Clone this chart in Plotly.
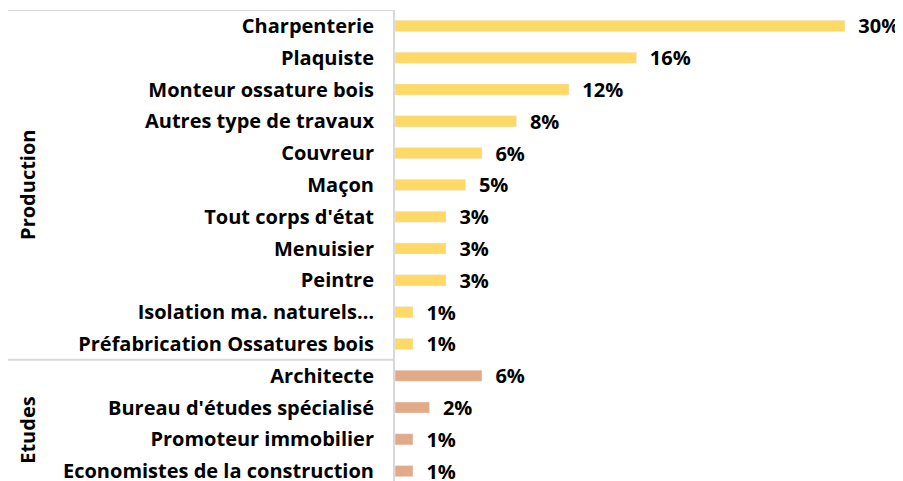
import plotly.graph_objects as go

# Production
prod_metiers = ["Charpenterie", "Plaquiste", "Monteur ossature bois", "Autres type de travaux",
                "Couvreur", "Maçon", "Tout corps d'état", "Menuisier", "Peintre",
                "Isolation ma. naturels…", "Préfabrication Ossatures bois"]
prod_pct = [30.0, 16.1, 11.6, 8.1, 5.8, 4.7, 3.4, 3.4, 3.4, 1.2, 1.2]

# Etudes
etudes_metiers = ["Architecte", "Bureau d'études spécialisé", "Promoteur immobilier",
                  "Economistes de la construction"]
etudes_pct = [5.8, 2.3, 1.2, 1.2]

groupes = ["Production", "Etudes"]

police = dict(family="Open Sans", size=20, weight="bold", color="black")
gris = "#D9D9D9"

fig = go.Figure()
fig.add_trace(go.Bar(
    y=prod_metiers, x=prod_pct, orientation="h",
    marker_color="#FFD966",
    texttemplate="  %{x:.0f}%", textposition="outside", cliponaxis=False,
    constraintext="none", textfont=police, hoverinfo="skip",
))
fig.add_trace(go.Bar(
    y=etudes_metiers, x=etudes_pct, orientation="h",
    marker_color="#E2AA87",
    texttemplate="  %{x:.0f}%", textposition="outside", cliponaxis=False,
    constraintext="none", textfont=police, hoverinfo="skip",
))

ordre = prod_metiers + etudes_metiers
n_prod = len(prod_metiers)

# la page ajoute une marge de 8 px autour de la figure
fig.update_layout(
    width=895, height=473,
    margin=dict(l=387, r=0, t=2, b=0, autoexpand=False),
    paper_bgcolor="white", plot_bgcolor="white",
    barmode="overlay", bargap=0.65,
    showlegend=False,
    font=police,
)
fig.update_yaxes(
    type="category", categoryorder="array", categoryarray=ordre,
    range=[14.31, -0.5], automargin=False,
    showline=True, linecolor=gris, linewidth=2,
    showgrid=False, ticks="", ticklabelstandoff=15,
    tickfont=police,
)
fig.update_xaxes(range=[0, 33.87], visible=False, automargin=False)

# lignes de séparation des groupes
for yy in [-0.5, n_prod - 0.5]:
    fig.add_shape(type="line", xref="paper", yref="y",
                  x0=-387 / 508, x1=0, y0=yy, y1=yy,
                  line=dict(color=gris, width=2))

# étiquettes des groupes
centres = [(n_prod - 1) / 2, n_prod + (len(etudes_metiers) - 1) / 2 + 0.2]
for g, c in zip(groupes, centres):
    fig.add_annotation(text=g, xref="paper", yref="y", x=-367 / 508, y=c,
                       textangle=-90, showarrow=False, font=police,
                       xanchor="center", yanchor="middle")

fig.write_html("out.html")
